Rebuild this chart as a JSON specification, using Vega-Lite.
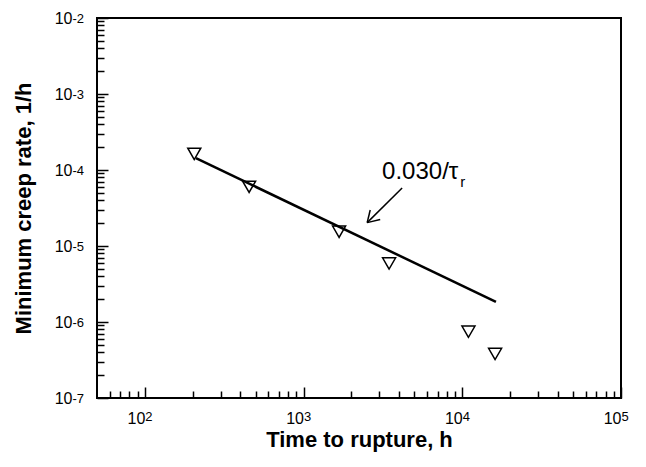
{
  "$schema": "https://vega.github.io/schema/vega-lite/v6.json",
  "width": 524,
  "height": 380,
  "autosize": {"type": "none"},
  "padding": {"left": 97, "top": 18, "right": 25, "bottom": 69},
  "background": "white",
  "config": {
    "view": {"stroke": "black", "strokeWidth": 2},
    "font": "Liberation Sans",
    "axis": {"grid": false, "domain": false, "tickColor": "black", "tickWidth": 1.5, "labelColor": "black", "titleColor": "black", "labelFont": "Liberation Sans", "titleFont": "Liberation Sans", "labelOverlap": false, "labelFlush": false}
  },
  "datasets": {
    "creep": [
      {"t": 205, "rate": 1.63e-4},
      {"t": 454, "rate": 6.0e-5},
      {"t": 1675, "rate": 1.54e-5},
      {"t": 3460, "rate": 5.9e-6},
      {"t": 10940, "rate": 7.45e-7},
      {"t": 16100, "rate": 3.8e-7}
    ],
    "fit": [
      {"t": 210, "rate": 1.43e-4},
      {"t": 16300, "rate": 1.84e-6}
    ],
    "arrow": [
      {"t": 4180, "rate": 5.79e-5, "t2": 2518, "rate2": 2.03e-5},
      {"t": 3041, "rate": 2.23e-5, "t2": 2518, "rate2": 2.03e-5},
      {"t": 2631, "rate": 2.98e-5, "t2": 2518, "rate2": 2.03e-5}
    ],
    "label": [{"t": 3126, "rate": 7.55e-5, "text": "0.030/τ"}],
    "sub": [{"t": 9700, "rate": 5.89e-5, "text": "r"}]
  },
  "resolve": {"axis": {"x": "independent", "y": "independent"}},
  "layer": [
    {
      "data": {"name": "creep"},
      "mark": {"type": "point", "opacity": 0},
      "encoding": {
        "x": {"field": "t", "type": "quantitative",
          "scale": {"type": "log", "domain": [50, 100000], "nice": false},
          "axis": {"orient": "bottom", "values": [60,70,80,90,200,300,400,500,600,700,800,900,2000,3000,4000,5000,6000,7000,8000,9000,20000,30000,40000,50000,60000,70000,80000,90000], "labels": false, "tickSize": -7, "title": null}},
        "y": {"field": "rate", "type": "quantitative",
          "scale": {"type": "log", "domain": [1e-7, 1e-2], "nice": false},
          "axis": {"orient": "left", "values": [2e-7,3e-7,4e-7,5e-7,6e-7,7e-7,8e-7,9e-7,2e-6,3e-6,4e-6,5e-6,6e-6,7e-6,8e-6,9e-6,2e-5,3e-5,4e-5,5e-5,6e-5,7e-5,8e-5,9e-5,2e-4,3e-4,4e-4,5e-4,6e-4,7e-4,8e-4,9e-4,2e-3,3e-3,4e-3,5e-3,6e-3,7e-3,8e-3,9e-3], "labels": false, "tickSize": -7, "title": null}}
      }
    },
    {
      "data": {"name": "creep"},
      "mark": {"type": "point", "opacity": 0},
      "encoding": {
        "x": {"field": "t", "type": "quantitative",
          "axis": {"orient": "bottom", "values": [100, 1000, 10000, 100000], "labels": false, "tickSize": -11, "title": null}},
        "y": {"field": "rate", "type": "quantitative",
          "axis": {"orient": "left", "values": [1e-7, 1e-6, 1e-5, 1e-4, 1e-3, 1e-2], "labels": false, "tickSize": -11, "title": null}}
      }
    },
    {
      "data": {"name": "creep"},
      "mark": {"type": "point", "opacity": 0},
      "encoding": {
        "x": {"field": "t", "type": "quantitative",
          "axis": {"orient": "bottom", "values": [100, 1000, 10000, 100000], "ticks": false, "tickSize": 0, "labelPadding": 12, "labelFontSize": 13, "labelAlign": "left", "labelDx": 4,
            "labelExpr": "'' + round(log(datum.value)/LN10)", "title": null}},
        "y": {"field": "rate", "type": "quantitative",
          "axis": {"orient": "left", "values": [1e-7, 1e-6, 1e-5, 1e-4, 1e-3, 1e-2], "ticks": false, "tickSize": 0, "labelPadding": 25, "labelFontSize": 13, "labelAlign": "left", "labelBaseline": "middle", "labelDx": 0, "labelDy": -2,
            "labelExpr": "'-' + round(-log(datum.value)/LN10)", "title": null}}
      }
    },
    {
      "data": {"name": "creep"},
      "mark": {"type": "point", "shape": "triangle-down", "filled": false, "stroke": "black", "strokeWidth": 1.5, "size": 169, "opacity": 1},
      "encoding": {
        "x": {"field": "t", "type": "quantitative",
          "axis": {"orient": "bottom", "values": [100, 1000, 10000, 100000], "ticks": false, "tickSize": 0, "labelPadding": 12, "labelFontSize": 16, "labelAlign": "right", "labelDx": 4,
            "labelExpr": "'10'",
            "title": "Time to rupture, h", "titleFontSize": 22, "titleFontWeight": "bold", "titlePadding": 3}},
        "y": {"field": "rate", "type": "quantitative",
          "axis": {"orient": "left", "values": [1e-7, 1e-6, 1e-5, 1e-4, 1e-3, 1e-2], "ticks": false, "tickSize": 0, "labelPadding": 25, "labelFontSize": 16, "labelAlign": "right", "labelBaseline": "middle", "labelDy": 3,
            "labelExpr": "'10'",
            "title": "Minimum creep rate, 1/h", "titleFontSize": 22, "titleFontWeight": "bold", "titlePadding": 19}}
      }
    },
    {
      "data": {"name": "fit"},
      "mark": {"type": "line", "color": "black", "strokeWidth": 2.5},
      "encoding": {
        "x": {"field": "t", "type": "quantitative", "axis": null},
        "y": {"field": "rate", "type": "quantitative", "axis": null}
      }
    },
    {
      "data": {"name": "arrow"},
      "mark": {"type": "rule", "color": "black", "strokeWidth": 1.5},
      "encoding": {
        "x": {"field": "t", "type": "quantitative", "axis": null},
        "y": {"field": "rate", "type": "quantitative", "axis": null},
        "x2": {"field": "t2"},
        "y2": {"field": "rate2"}
      }
    },
    {
      "data": {"name": "label"},
      "mark": {"type": "text", "align": "left", "baseline": "alphabetic", "fontSize": 24, "font": "Liberation Sans", "color": "black"},
      "encoding": {
        "x": {"field": "t", "type": "quantitative", "axis": null},
        "y": {"field": "rate", "type": "quantitative", "axis": null},
        "text": {"field": "text"}
      }
    },
    {
      "data": {"name": "sub"},
      "mark": {"type": "text", "align": "left", "baseline": "alphabetic", "fontSize": 15, "font": "Liberation Sans", "color": "black"},
      "encoding": {
        "x": {"field": "t", "type": "quantitative", "axis": null},
        "y": {"field": "rate", "type": "quantitative", "axis": null},
        "text": {"field": "text"}
      }
    }
  ]
}
